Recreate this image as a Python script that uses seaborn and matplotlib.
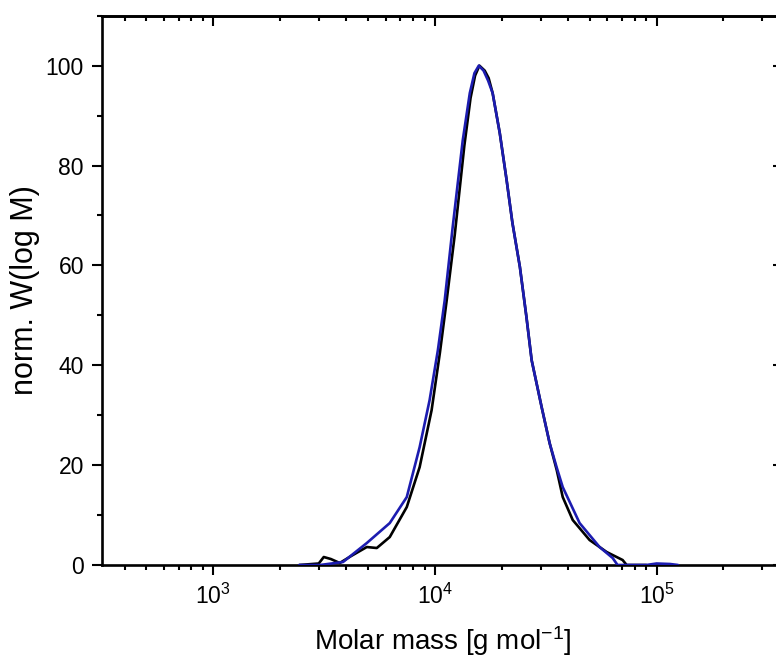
import numpy as np
import pandas as pd
import matplotlib
matplotlib.use("Agg")
import matplotlib.pyplot as plt
import matplotlib.ticker as mticker
import seaborn as sns

# --- data ---
black_M = [2450, 3000, 3160, 3400, 3730, 4200, 4940, 5480, 6270, 7480, 8550, 9680,
           10550, 11320, 12300, 13600, 14500, 15200, 15900, 16800, 17500, 18240, 19640,
           21100, 22400, 24200, 25900, 27350, 30340, 32960, 35480, 37760, 41900,
           49900, 59570, 70300, 73300, 90000]
black_W = [0, 0.3, 1.6, 1.2, 0.4, 1.8, 3.6, 3.4, 5.6, 11.6, 19.6, 31,
           42.5, 53, 66, 84, 93.5, 98, 100, 99, 97.5, 94.5, 86.5,
           77, 68.5, 59.7, 49.7, 41, 31.6, 24.4, 19, 13.6, 9,
           5, 2.6, 1.0, 0, 0]

blue_M = [2450, 3040, 3860, 4940, 6270, 7480, 8550, 9480, 10330, 11090, 12050,
          13370, 14390, 15100, 15800, 16600, 17400, 18240, 19640, 21100, 22400, 24200,
          25900, 27350, 30340, 32960, 35480, 37760, 44980, 55340, 63400, 66700,
          90000, 100000, 115000, 125000]
blue_W = [0, 0, 0.6, 4.4, 8.4, 13.6, 23.6, 33, 43, 53, 67.7,
          85, 94.5, 98.5, 100, 99, 97, 94.5, 86.5, 77, 68.5, 59.7,
          49.7, 41, 31.6, 24.4, 19.5, 15.6, 8.4, 3.6, 1.4, 0,
          0, 0.3, 0.2, 0]

x_label = r"Molar mass [g mol$^{\mathdefault{-1}}$]"
y_label = "norm. W(log M)"
y_ticks = [0, 20, 40, 60, 80, 100]

# --- style ---
sns.set_style("ticks")
plt.rcParams["font.family"] = ["Liberation Sans", "DejaVu Sans"]
plt.rcParams["mathtext.fontset"] = "custom"
plt.rcParams["mathtext.rm"] = "Liberation Sans"
plt.rcParams["mathtext.it"] = "Liberation Sans:italic"
plt.rcParams["mathtext.bf"] = "Liberation Sans:bold"
for k in ["text.color", "axes.labelcolor", "xtick.color", "ytick.color", "axes.edgecolor"]:
    plt.rcParams[k] = "black"

fig = plt.figure(figsize=(7.76, 6.59), dpi=100)
ax = fig.add_axes([102/776, 1 - 565/659, (783 - 102)/776, (565 - 15.7)/659])

df_b = pd.DataFrame({"M": black_M, "W": black_W})
df_u = pd.DataFrame({"M": blue_M, "W": blue_W})
sns.lineplot(data=df_u, x="M", y="W", ax=ax, color="#1c1cb0", lw=1.9, sort=False, zorder=3)
sns.lineplot(data=df_b, x="M", y="W", ax=ax, color="black", lw=1.9, sort=False, zorder=2)

ax.set_xscale("log")
ax.set_xlim(10**2.5, 10**5.57)
ax.set_ylim(0, 110)
ax.set_yticks(y_ticks)
ax.yaxis.set_minor_locator(mticker.MultipleLocator(10))
ax.xaxis.set_major_locator(mticker.LogLocator(base=10, numticks=10))
ax.xaxis.set_minor_locator(mticker.LogLocator(base=10, subs=np.arange(2, 10), numticks=20))
ax.xaxis.set_minor_formatter(mticker.NullFormatter())

for s in ax.spines.values():
    s.set_linewidth(1.9)
    s.set_color("black")
    s.set_visible(True)

ax.tick_params(axis="both", which="major", direction="out", length=7, width=1.5,
               labelsize=16.5, colors="black")
ax.tick_params(axis="y", which="major", pad=6)
ax.tick_params(axis="x", which="major", pad=6.5)
ax.tick_params(axis="both", which="minor", direction="out", length=3.8, width=1.5, colors="black")

# top/right ticks pointing inward
ax_top = ax.secondary_xaxis("top")
ax_top.xaxis.set_major_locator(mticker.LogLocator(base=10, numticks=10))
ax_top.xaxis.set_minor_locator(mticker.LogLocator(base=10, subs=np.arange(2, 10), numticks=20))
ax_top.tick_params(which="major", direction="in", length=7, width=1.5, labeltop=False, colors="black")
ax_top.tick_params(which="minor", direction="in", length=3.8, width=1.5, colors="black")
ax_top.xaxis.set_major_formatter(mticker.NullFormatter())
ax_top.xaxis.set_minor_formatter(mticker.NullFormatter())
ax_top.spines["top"].set_linewidth(1.9)
ax_top.spines["top"].set_color("black")

ax_right = ax.secondary_yaxis("right")
ax_right.set_yticks(y_ticks)
ax_right.yaxis.set_minor_locator(mticker.MultipleLocator(10))
ax_right.tick_params(which="major", direction="in", length=7, width=1.5, labelright=False, colors="black")
ax_right.tick_params(which="minor", direction="in", length=3.8, width=1.5, colors="black")
ax_right.yaxis.set_major_formatter(mticker.NullFormatter())

ax.set_xlabel(x_label, fontsize=20, labelpad=11)
ax.set_ylabel(y_label, fontsize=22, labelpad=4)

fig.savefig("out.png", dpi=100)
